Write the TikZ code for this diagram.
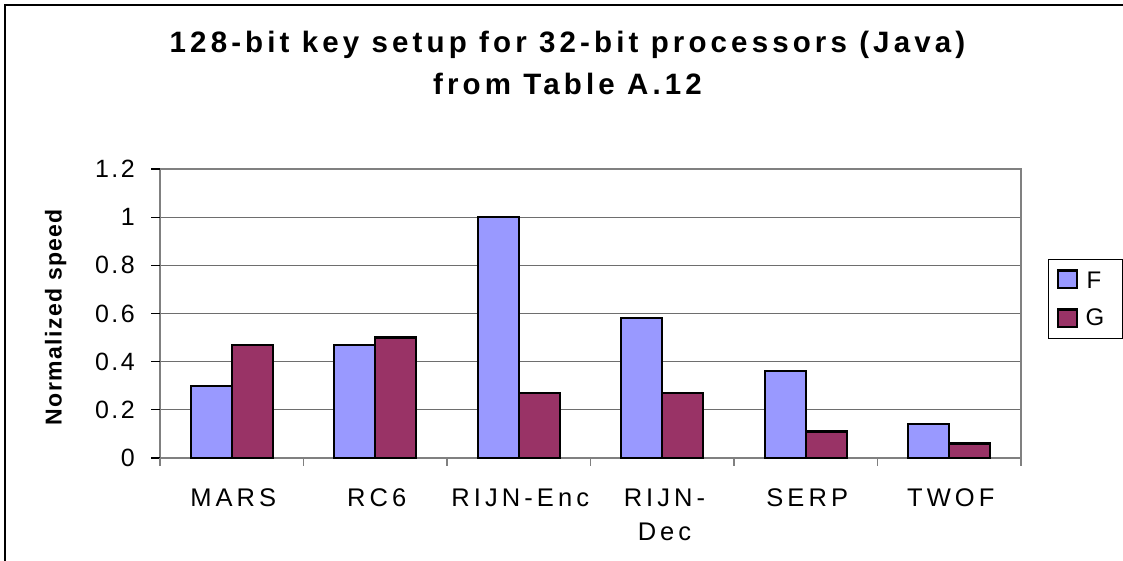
\documentclass[tikz,border=0pt]{standalone}
\usepackage{fontspec}
\setmainfont{Liberation Sans}
\definecolor{colF}{RGB}{153,153,255}
\definecolor{colG}{RGB}{153,51,102}
\definecolor{framegray}{RGB}{128,128,128}
\definecolor{gridgray}{RGB}{110,110,110}
\begin{document}
\begin{tikzpicture}[x=1pt,y=-1pt,
  bar/.style={draw=black,line width=2.2pt},
  fbar/.style={bar,fill=colF},
  gbar/.style={bar,fill=colG},
  gridline/.style={draw=gridgray,line width=1.1pt},
  plotframe/.style={draw=framegray,line width=2.6pt},
  ytick/.style={draw=black,line width=1.1pt},
  xtick/.style={draw=framegray,line width=1.3pt},
  titletext/.style={inner sep=0pt,anchor=base,font={\fontsize{29.5}{36}\selectfont\bfseries\addfontfeature{LetterSpace=14}}},
  ticklabel/.style={inner sep=0pt,anchor=east,font={\fontsize{25}{30}\selectfont\addfontfeature{LetterSpace=10}}},
  catlabel/.style={inner sep=0pt,anchor=base,font={\fontsize{25.5}{34}\selectfont\addfontfeature{LetterSpace=16}}},
  axistitle/.style={inner sep=0pt,anchor=base,rotate=90,font={\fontsize{23}{28}\selectfont\bfseries\addfontfeature{LetterSpace=6}}},
  legendtext/.style={inner sep=0pt,anchor=base west,font={\fontsize{24}{28}\selectfont}},
  swatch/.style={draw=black,line width=2.2pt,minimum width=18.5pt,minimum height=17.5pt,inner sep=0pt}
]
\useasboundingbox (0,0) rectangle (1123,561);
\fill[white] (0,0) rectangle (1123,561);
% chart area border (only left and top are inside the picture)
\draw[line width=1.5pt] (5,561) -- (5,5) -- (1123,5);

% title
\node[titletext] (title1) at (567.5,53) {128-bit key setup for 32-bit processors (Java)};
\node[titletext] (title2) at (567.5,95) {from Table A.12};

% gridlines
\foreach \v in {0.2,0.4,0.6,0.8,1.0}
  \draw[gridline] (160,{458-\v*240.83}) -- (1021,{458-\v*240.83});

% plot frame
\draw[plotframe] (160,169) rectangle (1021,458);

% y ticks and labels
\foreach \v/\t [count=\k] in {0/0,0.2/0.2,0.4/0.4,0.6/0.6,0.8/0.8,1.0/1,1.2/1.2}{
  \draw[ytick] (151,{458-\v*240.83}) -- (160,{458-\v*240.83});
  \node[ticklabel] (yl\k) at (135,{458-\v*240.83}) {\t};
}

% x ticks
\foreach \i in {0,...,6}
  \draw[xtick] ({160+143.5*\i},458) -- ({160+143.5*\i},466);

% bars
\foreach \i/\f/\g in {0/0.30/0.47,1/0.47/0.50,2/1.00/0.27,3/0.58/0.27,4/0.36/0.11,5/0.14/0.06}{
  \pgfmathsetmacro\xa{160+143.5*\i+30.75}
  \draw[fbar] (\xa,458) rectangle ({\xa+41},{458-\f*240.83});
  \draw[gbar] ({\xa+41},458) rectangle ({\xa+82},{458-\g*240.83});
}

% category labels
\foreach \i/\t in {0/MARS,1/RC6,2/RIJN-Enc,4/SERP,5/TWOF}
  \node[catlabel] (cat\i) at ({160+143.5*\i+71.75+1.5},506.5) {\t};
\node[catlabel] (cat3a) at (664.5,506.5) {RIJN-};
\node[catlabel] (cat3b) at (664.5,540) {Dec};

% axis title
\node[axistitle] (ytitle) at (61.5,317) {Normalized speed};

% legend
\node[draw=black,line width=0.9pt,minimum width=74pt,minimum height=79pt,inner sep=0pt,anchor=north west] (legend) at (1047.5,258.5) {};
\node[swatch,fill=colF] (swF) at (1067.5,279.3) {};
\node[swatch,fill=colG] (swG) at (1067.5,318.3) {};
\node[legendtext] (labF) at (1086.5,288.3) {F};
\node[legendtext] (labG) at (1085.5,325.5) {G};
\end{tikzpicture}
\end{document}
